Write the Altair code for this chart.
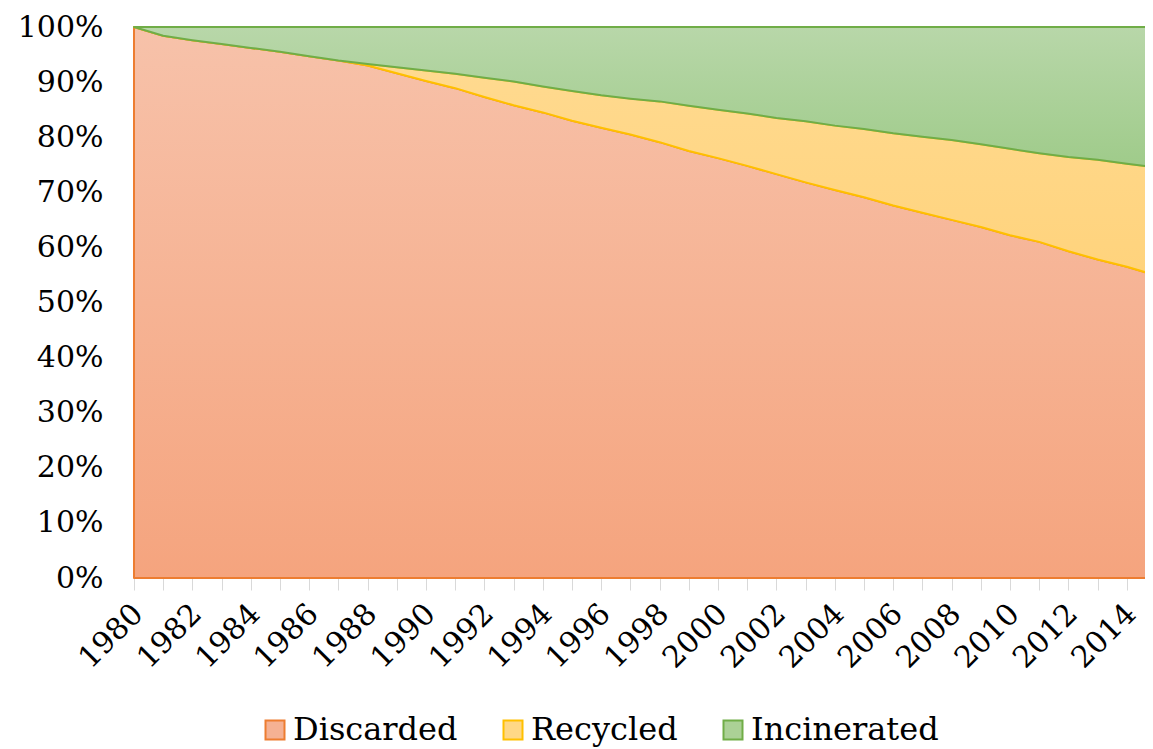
import altair as alt
import pandas as pd

years = list(range(1980, 2016))
discarded = [100.0, 98.4, 97.6, 96.9, 96.2, 95.5, 94.7, 93.9, 93.0, 91.6,
             90.2, 88.9, 87.3, 85.8, 84.5, 83.0, 81.7, 80.5, 79.1, 77.5,
             76.2, 74.8, 73.3, 71.8, 70.4, 69.1, 67.6, 66.3, 65.0, 63.7,
             62.2, 61.0, 59.3, 57.8, 56.5, 54.9]
recycled = [0.0, 0.0, 0.0, 0.0, 0.0, 0.0, 0.0, 0.0, 0.3, 1.1,
            1.9, 2.6, 3.5, 4.3, 4.7, 5.4, 5.9, 6.5, 7.4, 8.2,
            8.8, 9.5, 10.2, 11.1, 11.7, 12.4, 13.1, 13.8, 14.5, 15.0,
            15.7, 16.1, 17.1, 18.1, 18.7, 19.6]
incinerated = [0.0, 1.6, 2.4, 3.1, 3.8, 4.5, 5.3, 6.1, 6.7, 7.3,
               7.9, 8.5, 9.2, 9.9, 10.8, 11.6, 12.4, 13.0, 13.5, 14.3,
               15.0, 15.7, 16.5, 17.1, 17.9, 18.5, 19.3, 19.9, 20.5, 21.3,
               22.1, 22.9, 23.6, 24.1, 24.8, 25.5]
tick_years = list(range(1980, 2015))

series_names = ["Discarded", "Recycled", "Incinerated"]
line_colors = ["#ED7D31", "#FFC000", "#70AD47"]
fill_colors = ["#F5B193", "#FFD886", "#ABD196"]
grad_stops = [("#F7C2AA", "#F5A47E"), ("#FFDB93", "#FFD37C"), ("#B8D7A9", "#9FCB8A")]

rows = []
for i, yr in enumerate(years):
    vals = [discarded[i], recycled[i], incinerated[i]]
    tot = sum(vals)
    low = 0.0
    for name, v in zip(series_names, vals):
        frac = v / tot
        rows.append({"year": yr, "series": name, "lower": low, "upper": low + frac})
        low += frac
df = pd.DataFrame(rows)

FONT = "DejaVu Serif"

x_enc = alt.X("year:Q",
              scale=alt.Scale(domain=[1980, 2014.62], nice=False, zero=False),
              axis=alt.Axis(values=tick_years, title=None, grid=False,
                            labelExpr="datum.value % 2 == 0 ? datum.value : ''",
                            labelAngle=-45, labelAlign="right", labelBaseline="middle",
                            labelFontSize=30, labelFont=FONT, labelColor="#000000",
                            labelPadding=19, labelOffset=4, labelOverlap=False,
                            labelFlush=False, labelBound=False,
                            tickSize=12, tickColor="#D9D9D9", tickWidth=1,
                            domainColor="#D9D9D9", domainWidth=1))
y_scale = alt.Scale(domain=[0, 1], nice=False)
y_axis = alt.Axis(values=[i / 10 for i in range(11)], format=".0%", title=None,
                  grid=False, ticks=False, tickSize=0, domain=False,
                  labelFontSize=30, labelFont=FONT, labelColor="#000000",
                  labelPadding=31)

layers = []
for idx, name in enumerate(series_names):
    top_c, bot_c = grad_stops[idx]
    grad = alt.Gradient(gradient="linear",
                        stops=[alt.GradientStop(color=top_c, offset=0),
                               alt.GradientStop(color=bot_c, offset=1)],
                        x1=1, x2=1, y1=0, y2=1)
    layer = alt.Chart(df).transform_filter(
        alt.datum.series == name
    ).mark_area(fill=grad, stroke=line_colors[idx], strokeWidth=2,
                strokeJoin="round", interpolate="linear", clip=False).encode(
        x=x_enc,
        y=alt.Y("upper:Q", scale=y_scale, axis=y_axis),
        y2="lower:Q",
    )
    layers.append(layer)

legend = alt.Legend(title=None, orient="none", direction="horizontal",
                    legendX=125, legendY=687,
                    symbolType="square", symbolSize=361, symbolStrokeWidth=2,
                    symbolOpacity=1, labelFontSize=32, labelFont=FONT,
                    labelColor="#000000", labelOffset=2, columnPadding=39,
                    labelLimit=0)
legend_layer = alt.Chart(df).mark_point(filled=True, shape="square", opacity=0,
                                        clip=True).encode(
    x=x_enc,
    y=alt.Y("upper:Q", scale=y_scale, axis=y_axis),
    fill=alt.Fill("series:N", scale=alt.Scale(domain=series_names, range=fill_colors),
                  legend=legend),
    stroke=alt.Stroke("series:N", scale=alt.Scale(domain=series_names, range=line_colors),
                      legend=legend),
)
layers.append(legend_layer)

chart = alt.layer(*layers).properties(
    width=1011, height=551,
    autosize=alt.AutoSizeParams(type="none"),
    padding={"left": 126, "top": 19, "right": 0, "bottom": 171},
).configure_view(stroke=None).configure(background="white")

chart.save("out.html", embed_options={"renderer": "svg", "actions": False})
